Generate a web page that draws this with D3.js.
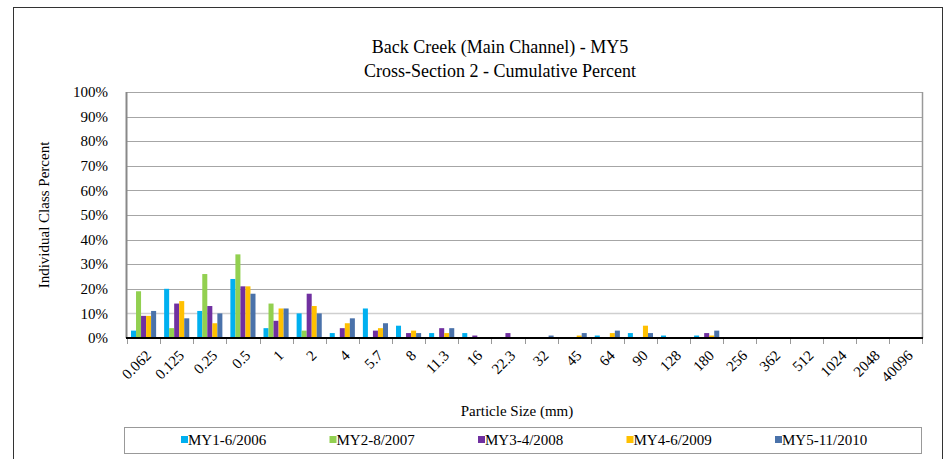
<!DOCTYPE html>
<html>
<head>
<meta charset="utf-8">
<script src="https://cdn.jsdelivr.net/npm/d3@7"></script>
<style>
  body { margin: 0; background: #fff; }
  svg text { font-family: "Times New Roman", "Liberation Serif", Tinos, "DejaVu Serif", serif; }
</style>
</head>
<body>
<svg id="chart" width="945" height="459"></svg>
<script>
// particle size classes (mm)
var categories = ["0.062", "0.125", "0.25", "0.5", "1", "2", "4", "5.7", "8", "11.3", "16", "22.3",
                  "32", "45", "64", "90", "128", "180", "256", "362", "512", "1024", "2048", "40096"];

var seriesNames = ["MY1-6/2006", "MY2-8/2007", "MY3-4/2008", "MY4-6/2009", "MY5-11/2010"];
var seriesColors = ["#00b0f0", "#92d050", "#7030a0", "#ffc000", "#4a72aa"];

// individual class percent per survey
var my1 = [3, 20, 11, 24, 4, 10, 2, 12, 5, 2, 2, 0, 0, 0, 1, 2, 1, 1, 0, 0, 0, 0, 0, 0];
var my2 = [19, 4, 26, 34, 14, 3, 0, 0, 0, 0, 0, 0, 0, 0, 0, 0, 0, 0, 0, 0, 0, 0, 0, 0];
var my3 = [9, 14, 13, 21, 7, 18, 4, 3, 2, 4, 1, 2, 0, 0, 0, 0, 0, 2, 0, 0, 0, 0, 0, 0];
var my4 = [9, 15, 6, 21, 12, 13, 6, 4, 3, 2, 0, 0, 0, 1, 2, 5, 0, 1, 0, 0, 0, 0, 0, 0];
var my5 = [11, 8, 10, 18, 12, 10, 8, 6, 2, 4, 0, 0, 1, 2, 3, 2, 0, 3, 0, 0, 0, 0, 0, 0];

var yTicks = [0, 10, 20, 30, 40, 50, 60, 70, 80, 90, 100];

var allSeries = [my1, my2, my3, my4, my5];

var svg = d3.select('#chart');

// outer chart frame
svg.append('rect')
  .attr('x', 13.5).attr('y', 7.5)
  .attr('width', 929).attr('height', 470)
  .attr('fill', 'none')
  .attr('stroke', '#333').attr('stroke-width', 1);

var plot = { left: 127, right: 922, top: 92, bottom: 338 };

var x0 = d3.scaleBand()
  .domain(categories)
  .range([plot.left, plot.right]);

var x1 = d3.scaleBand()
  .domain(d3.range(allSeries.length))
  .range([4, x0.bandwidth() - 4]);

var y = d3.scaleLinear()
  .domain([0, 100])
  .range([plot.bottom, plot.top]);

// gridlines
svg.append('g')
  .selectAll('line')
  .data(yTicks.filter(function(t) { return t > 0; }))
  .join('line')
  .attr('x1', plot.left).attr('x2', plot.right)
  .attr('y1', function(d) { return Math.round(y(d)) + 0.5; })
  .attr('y2', function(d) { return Math.round(y(d)) + 0.5; })
  .attr('stroke', function(d) { return d === 10 ? '#cfcfcf' : '#a6a6a6'; })
  .attr('stroke-width', function(d) { return d === 10 ? 1.5 : 1; });

// plot border (right side) and left axis line
svg.append('line')
  .attr('x1', plot.right + 0.5).attr('x2', plot.right + 0.5)
  .attr('y1', plot.top).attr('y2', plot.bottom)
  .attr('stroke', '#999').attr('stroke-width', 1.5);
svg.append('line')
  .attr('x1', plot.left - 0.5).attr('x2', plot.left - 0.5)
  .attr('y1', plot.top).attr('y2', plot.bottom)
  .attr('stroke', '#888').attr('stroke-width', 2);

// bars
var groups = svg.append('g')
  .selectAll('g')
  .data(allSeries)
  .join('g')
  .attr('fill', function(d, i) { return seriesColors[i]; });

groups.each(function(vals, si) {
  d3.select(this).selectAll('rect')
    .data(vals.map(function(v, ci) { return { v: v, c: categories[ci] }; })
              .filter(function(d) { return d.v > 0; }))
    .join('rect')
    .attr('x', function(d) { return x0(d.c) + x1(si); })
    .attr('width', x1.bandwidth())
    .attr('y', function(d) { return y(d.v); })
    .attr('height', function(d) { return y(0) - y(d.v); });
});

// x axis
var xAxis = svg.append('g')
  .attr('transform', 'translate(0,' + plot.bottom + ')');

xAxis.append('line')
  .attr('x1', plot.left - 1).attr('x2', plot.right + 1)
  .attr('y1', 0).attr('y2', 0)
  .attr('stroke', '#000').attr('stroke-width', 2);

xAxis.selectAll('line.tick')
  .data(categories.concat(['end']))
  .join('line')
  .attr('class', 'tick')
  .attr('x1', function(d, i) { return Math.round(plot.left + i * x0.step()) + 0.5; })
  .attr('x2', function(d, i) { return Math.round(plot.left + i * x0.step()) + 0.5; })
  .attr('y1', 1).attr('y2', 6)
  .attr('stroke', '#999');

xAxis.selectAll('text')
  .data(categories)
  .join('text')
  .attr('transform', function(d) {
    return 'translate(' + (x0(d) + x0.bandwidth() / 2 + 1) + ',11) rotate(-45)';
  })
  .attr('text-anchor', 'end')
  .attr('dy', '0.7em')
  .attr('font-size', 15)
  .text(function(d) { return d; });

// y axis labels
svg.append('g')
  .selectAll('text')
  .data(yTicks)
  .join('text')
  .attr('x', 108)
  .attr('y', function(d) { return y(d); })
  .attr('dy', '0.35em')
  .attr('text-anchor', 'end')
  .attr('font-size', 15)
  .text(function(d) { return d + '%'; });

// titles
svg.append('text')
  .attr('x', 500).attr('y', 53)
  .attr('text-anchor', 'middle')
  .attr('font-size', 18)
  .text('Back Creek (Main Channel) - MY5');
svg.append('text')
  .attr('x', 500).attr('y', 77)
  .attr('text-anchor', 'middle')
  .attr('font-size', 18)
  .text('Cross-Section 2 - Cumulative Percent');

svg.append('text')
  .attr('transform', 'translate(49,' + ((plot.top + plot.bottom) / 2) + ') rotate(-90)')
  .attr('text-anchor', 'middle')
  .attr('font-size', 15)
  .text('Individual Class Percent');

svg.append('text')
  .attr('x', 517).attr('y', 416)
  .attr('text-anchor', 'middle')
  .attr('font-size', 15)
  .text('Particle Size (mm)');

// legend
svg.append('rect')
  .attr('x', 124.5).attr('y', 427.5)
  .attr('width', 797).attr('height', 26)
  .attr('fill', 'none')
  .attr('stroke', '#999');

var legend = svg.append('g')
  .selectAll('g')
  .data(seriesNames)
  .join('g')
  .attr('transform', function(d, i) { return 'translate(' + (181 + i * 148.5) + ',440)'; });

legend.append('rect')
  .attr('x', 0).attr('y', -4)
  .attr('width', 7).attr('height', 7)
  .attr('fill', function(d, i) { return seriesColors[i]; });

legend.append('text')
  .attr('x', 7).attr('y', 0)
  .attr('dy', '0.35em')
  .attr('font-size', 15)
  .text(function(d) { return d; });
</script>
</body>
</html>
